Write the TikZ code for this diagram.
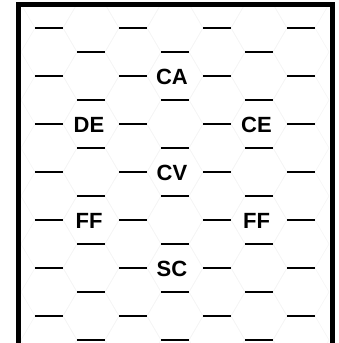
\documentclass[tikz,border=0pt]{standalone}
\usepackage{fontspec}
\setmainfont{Liberation Sans}
\usetikzlibrary{positioning}

\begin{document}
\begin{tikzpicture}[
    x=1pt, y=-1pt,
    every node/.style={font=\fontsize{22}{22}\selectfont\bfseries, inner sep=1pt},
    hexline/.style={draw=black!4, line width=0.6pt},
    edgeline/.style={draw=black, line width=1.2pt},
    frameline/.style={draw=black, line width=5pt, line join=miter}
]
\useasboundingbox (0,0) rectangle (339,343);

% ============== Rejilla hexagonal ==============
\begin{scope}
\clip (21,6.5) rectangle (330,343);
\foreach \i in {0,...,6}{
  \pgfmathsetmacro{\cx}{49+42*\i}
  \pgfmathsetmacro{\oy}{mod(\i,2)==1 ? 28 : 4}
  \foreach \k in {0,...,8}{
    \pgfmathsetmacro{\cy}{\oy+48*\k}
    \draw[hexline] (\cx-14,\cy-24) -- ++(28,0) -- ++(14,24) -- ++(-14,24)
      -- ++(-28,0) -- ++(-14,-24) -- cycle;
  }
}
\end{scope}

% ============== Aristas horizontales ==============
\foreach \i in {0,...,6}{
  \pgfmathsetmacro{\cx}{49+42*\i}
  \pgfmathsetmacro{\ey}{mod(\i,2)==1 ? 52 : 28}
  \foreach \k in {0,...,6}
    \draw[edgeline] (\cx-14,\ey+48*\k) -- ++(28,0);
}

% ============== Marco ==============
\draw[frameline] (18.5,343) -- (18.5,4) -- (332.5,4) -- (332.5,343);

% ============== Etiquetas ==============
\node (ca)  at (172,76.5)  {CA};
\node (de)  at (89,124.5)  {DE};
\node (ce)  at (256.5,124.5) {CE};
\node (cv)  at (172,172.5) {CV};
\node (ffl) at (89,220.5)  {FF};
\node (ffr) at (256.5,220.5) {FF};
\node (sc)  at (172,268.5) {SC};
\end{tikzpicture}
\end{document}
